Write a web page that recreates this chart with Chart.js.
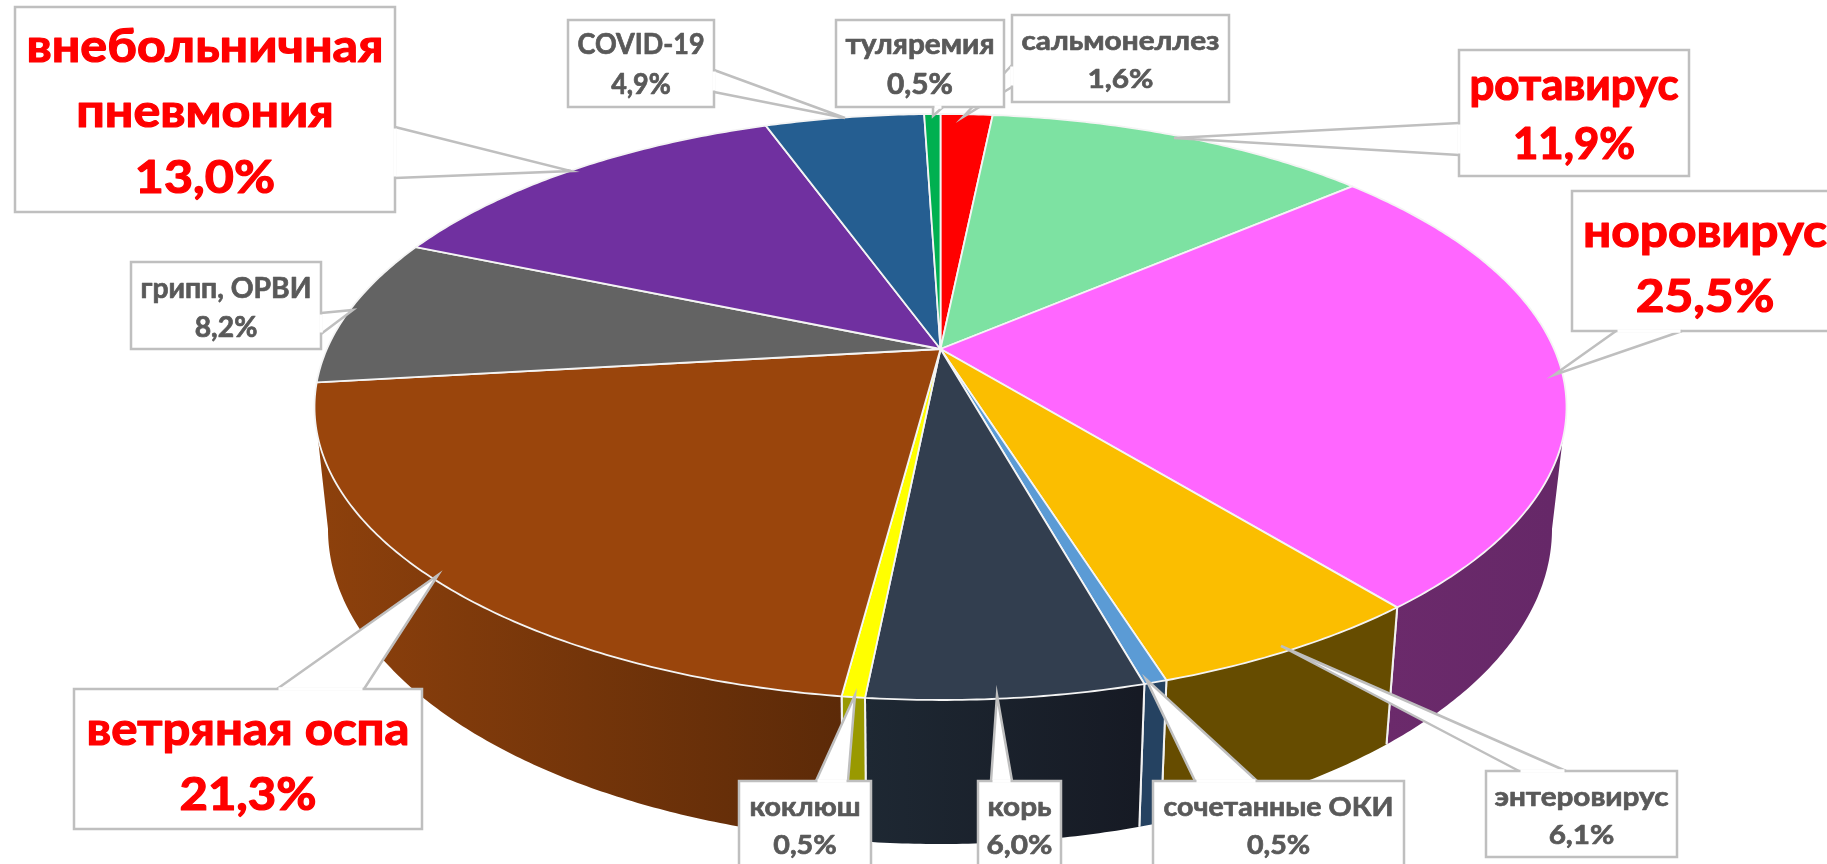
<!DOCTYPE html>
<html lang="ru"><head><meta charset="utf-8">
<style>html,body{margin:0;padding:0;background:#fff;overflow:hidden}canvas{display:block}</style>
<script src="https://cdn.jsdelivr.net/npm/chart.js@4"></script>
</head><body>
<canvas id="c" width="1827" height="864"></canvas>
<script>
const categories = ['сальмонеллез','ротавирус','норовирус','энтеровирус','сочетанные ОКИ','корь','коклюш','ветряная оспа','грипп, ОРВИ','внебольничная пневмония','COVID-19','туляремия'];
const shares = [1.6,11.9,25.5,6.1,0.5,6.0,0.5,21.3,8.2,13.0,4.9,0.5];
const topColors = ['#FF0000','#7DE2A2','#FF66FF','#FBBE00','#5B9BD5','#323E4F','#FFFF00','#9A450C','#636363','#7030A0','#255E91','#00B050'];
const wallColors = [['#A00000','#A00000'],['#4E8E66','#4E8E66'],['#6B2A6B','#662868'],['#664C00','#664C00'],['#254261','#254261'],['#1E2833','#161A24'],['#999900','#999900'],['#8C400C','#5C2A08'],['#3E3E3E','#3E3E3E'],['#46206A','#46206A'],['#173B5B','#173B5B'],['#006E32','#006E32']];

// scene geometry of the tilted disc
const TOP = {cx:940.5, cy:407, rx:626, ry:293, e:0.183, hubY:349};
const BOT = {cx:940, cy:529, rx:612, ry:315};

// callout layout: box [x0,y0,x1,y1], tail vertices, text font px, first-line width, baselines, text centre
const RED='#FF0000', GREY='#595959';
const callouts = [
 {i:0, lines:['сальмонеллез'], box:[1012,15,1229,102], tail:[[1012,65],[963,117],[1012,87]], size:27, w:198, base:[50,88], c:GREY},
 {i:11,lines:['туляремия'], box:[836,20,1004,107], tail:[[933,107],[933,116],[943,107]], size:28, w:149, base:[54,94], c:GREY},
 {i:10,lines:['COVID-19'], box:[568,20,714,107], tail:[[714,70],[845,118],[714,92]], size:28, w:127, base:[54,94], c:GREY},
 {i:9, lines:['внебольничная','пневмония'], box:[15,7,395,212], tail:[[395,127],[571,171],[395,178]], size:46, w:357, base:[62,127,193], c:RED},
 {i:8, lines:['грипп, ОРВИ'], box:[131,262,321,349], tail:[[321,313],[353,310],[321,334]], size:28, w:171, base:[298,337], c:GREY},
 {i:1, lines:['ротавирус'], box:[1459,50,1689,176], tail:[[1459,123],[1174,138],[1459,155]], size:43, w:209, base:[100,159], c:RED},
 {i:2, lines:['норовирус'], box:[1572,191,1860,331], tail:[[1616,331],[1554,375],[1682,331]], size:46, w:244, base:[247,312], c:RED, cx:1705},
 {i:7, lines:['ветряная оспа'], box:[74,689,422,829], tail:[[277,689],[438,575],[364,689]], size:46, w:323, base:[745,810], c:RED},
 {i:6, lines:['коклюш'], box:[739,781,871,890], tail:[[816,781],[855,695],[848,781]], size:27, w:111, base:[816,854], c:GREY},
 {i:5, lines:['корь'], box:[978,781,1061,890], tail:[[991,781],[997,695],[1012,781]], size:27, w:64, base:[816,854], c:GREY},
 {i:4, lines:['сочетанные ОКИ'], box:[1153,781,1404,890], tail:[[1195,781],[1146,679],[1257,781]], size:27, w:230, base:[816,854], c:GREY},
 {i:3, lines:['энтеровирус'], box:[1486,771,1677,857], tail:[[1519,771],[1281,646],[1566,771]], size:27, w:174, base:[806,844], c:GREY}
];

function project(a){ // disc angle -> ellipse parameter, with perspective shift of the hub
  const u=Math.cos(a), v=Math.sin(a), e=TOP.e, k=1-e*v;
  return {u:u*Math.sqrt(1-e*e)/k, v:(v-e)/k};
}
const topPt=(u,v)=>[TOP.cx+TOP.rx*u, TOP.cy+TOP.ry*v];
function phiOf(a){
  const p=project(a); let f=Math.atan2(p.v,p.u);
  if(f<-Math.PI/2-1e-9) f+=2*Math.PI;
  return f;
}

const pie3d = {
  id:'pie3d',
  beforeDatasetDraw(chart,args){
    const ctx=chart.ctx, arcs=chart.getDatasetMeta(args.index).data;
    const hub=[TOP.cx, TOP.hubY];
    // side walls (front half only)
    arcs.forEach((arc,i)=>{
      let f1=phiOf(arc.startAngle), f2=phiOf(arc.endAngle);
      if(f2<=f1) f2+=2*Math.PI;
      const a=Math.max(f1,0), b=Math.min(f2,Math.PI);
      if(b<=a) return;
      const n=Math.max(2,Math.ceil((b-a)/0.01));
      ctx.beginPath();
      for(let k=0;k<=n;k++){const f=a+(b-a)*k/n;const x=TOP.cx+TOP.rx*Math.cos(f),y=TOP.cy+TOP.ry*Math.sin(f);k?ctx.lineTo(x,y):ctx.moveTo(x,y);}
      for(let k=n;k>=0;k--){const f=a+(b-a)*k/n;ctx.lineTo(BOT.cx+BOT.rx*Math.cos(f),BOT.cy+BOT.ry*Math.sin(f));}
      ctx.closePath();
      const xL=BOT.cx+BOT.rx*Math.cos(b), xR=BOT.cx+BOT.rx*Math.cos(a);
      const g=ctx.createLinearGradient(xL,0,xR+0.01,0);
      g.addColorStop(0,wallColors[i][0]); g.addColorStop(1,wallColors[i][1]);
      ctx.fillStyle=g; ctx.fill();
      // white divider where the slice ends inside the visible wall
      ctx.strokeStyle='#F2F2F2'; ctx.lineWidth=2;
      [a,b].forEach(f=>{ if(f>0.001&&f<Math.PI-0.001){
        ctx.beginPath();
        ctx.moveTo(TOP.cx+TOP.rx*Math.cos(f),TOP.cy+TOP.ry*Math.sin(f));
        ctx.lineTo(BOT.cx+BOT.rx*Math.cos(f),BOT.cy+BOT.ry*Math.sin(f));
        ctx.stroke();
      }});
    });
    // top face
    arcs.forEach((arc,i)=>{
      const n=Math.max(4,Math.ceil((arc.endAngle-arc.startAngle)/0.01));
      ctx.beginPath(); ctx.moveTo(hub[0],hub[1]);
      for(let k=0;k<=n;k++){
        const p=project(arc.startAngle+(arc.endAngle-arc.startAngle)*k/n);
        const q=topPt(p.u,p.v); ctx.lineTo(q[0],q[1]);
      }
      ctx.closePath();
      ctx.fillStyle=topColors[i]; ctx.fill();
      ctx.strokeStyle='#F4F4F4'; ctx.lineWidth=1.8; ctx.lineJoin='round'; ctx.stroke();
    });
    return false;
  },
  afterDraw(chart){
    const ctx=chart.ctx;
    ctx.save();
    ctx.textAlign='center'; ctx.textBaseline='alphabetic';
    callouts.forEach(l=>{
      const [x0,y0,x1,y1]=l.box, t=l.tail;
      ctx.beginPath();
      ctx.rect(x0,y0,x1-x0,y1-y0);
      ctx.moveTo(t[0][0],t[0][1]); ctx.lineTo(t[1][0],t[1][1]); ctx.lineTo(t[2][0],t[2][1]); ctx.closePath();
      ctx.fillStyle='#fff'; ctx.fill('nonzero');
      ctx.strokeStyle='#BFBFBF'; ctx.lineWidth=2.5; ctx.lineJoin='miter';
      ctx.beginPath();
      ctx.rect(x0,y0,x1-x0,y1-y0); ctx.stroke();
      ctx.beginPath();
      ctx.moveTo(t[0][0],t[0][1]); ctx.lineTo(t[1][0],t[1][1]); ctx.lineTo(t[2][0],t[2][1]); ctx.stroke();
      // erase box edge under the tail mouth
      const dx=t[2][0]-t[0][0], dy=t[2][1]-t[0][1], len=Math.hypot(dx,dy);
      ctx.strokeStyle='#fff'; ctx.lineWidth=3.5;
      ctx.beginPath();
      ctx.moveTo(t[0][0]+dx/len*1.5,t[0][1]+dy/len*1.5);
      ctx.lineTo(t[2][0]-dx/len*1.5,t[2][1]-dy/len*1.5);
      ctx.stroke();
      // text
      const cx=l.cx!==undefined?l.cx:(x0+x1)/2;
      ctx.font='700 '+l.size+'px Lato, "Open Sans", "Noto Sans", sans-serif';
      ctx.fillStyle=l.c; ctx.strokeStyle=l.c;
      const sx=l.w/ctx.measureText(l.lines[0]).width;
      const pct=shares[l.i].toFixed(1).replace('.',',')+'%';
      const all=l.lines.concat([pct]);
      all.forEach((s,j)=>{
        ctx.save(); ctx.translate(cx,l.base[j]); ctx.scale(sx,1);
        ctx.lineWidth=l.size>40?1.2:0.7; ctx.lineJoin='round';
        ctx.strokeText(s,0,0); ctx.fillText(s,0,0); ctx.restore();
      });
    });
    ctx.restore();
  }
};

new Chart(document.getElementById('c'),{
  type:'pie',
  data:{labels:categories,datasets:[{data:shares,backgroundColor:topColors,borderColor:'#fff',borderWidth:1}]},
  options:{responsive:false,animation:false,events:[],plugins:{legend:{display:false},tooltip:{enabled:false}}},
  plugins:[pie3d]
});
</script>
</body></html>
